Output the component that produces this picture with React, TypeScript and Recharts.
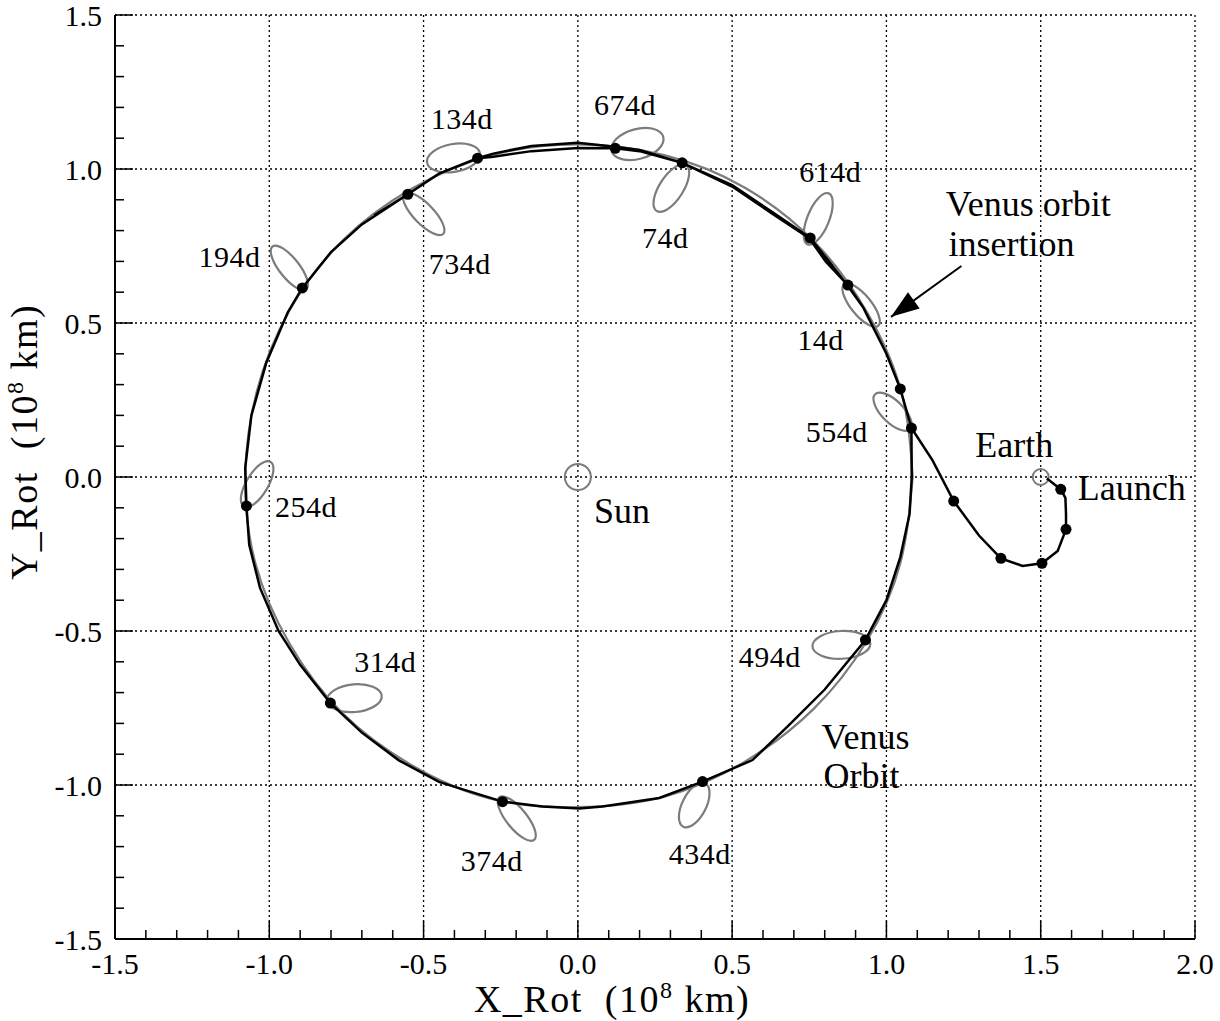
import { CartesianGrid, Scatter, ScatterChart, XAxis, YAxis } from "recharts";

const FONT = "'Liberation Serif', 'Times New Roman', serif";
const GREY = "#7c7c7c";

// axis ticks (every 0.1, labels only on the majors)
const X_MAJOR = [-1.5, -1.0, -0.5, 0, 0.5, 1.0, 1.5, 2.0];
const Y_MAJOR = [-1.5, -1.0, -0.5, 0, 0.5, 1.0, 1.5];
const X_TICKS = [
  -1.5, -1.4, -1.3, -1.2, -1.1, -1.0, -0.9, -0.8, -0.7, -0.6, -0.5, -0.4, -0.3, -0.2, -0.1, 0,
  0.1, 0.2, 0.3, 0.4, 0.5, 0.6, 0.7, 0.8, 0.9, 1.0, 1.1, 1.2, 1.3, 1.4, 1.5, 1.6, 1.7, 1.8, 1.9, 2.0,
];
const Y_TICKS = [
  -1.5, -1.4, -1.3, -1.2, -1.1, -1.0, -0.9, -0.8, -0.7, -0.6, -0.5, -0.4, -0.3, -0.2, -0.1, 0,
  0.1, 0.2, 0.3, 0.4, 0.5, 0.6, 0.7, 0.8, 0.9, 1.0, 1.1, 1.2, 1.3, 1.4, 1.5,
];

// spacecraft path in the rotating frame: launch leg, then two laps round Venus orbit
const trajectory = [
  { x: 1.52, y: -0.005 }, { x: 1.565, y: -0.04 }, { x: 1.58, y: -0.068 }, { x: 1.582, y: -0.12 },
  { x: 1.582, y: -0.17 }, { x: 1.555, y: -0.24 }, { x: 1.504, y: -0.28 }, { x: 1.441, y: -0.289 },
  { x: 1.371, y: -0.264 }, { x: 1.3, y: -0.19 }, { x: 1.218, y: -0.078 }, { x: 1.149, y: 0.055 },
  { x: 1.081, y: 0.159 }, { x: 1.045, y: 0.286 }, { x: 1.0, y: 0.4 }, { x: 0.96, y: 0.48 },
  { x: 0.925, y: 0.55 }, { x: 0.875, y: 0.623 }, { x: 0.803, y: 0.7 }, { x: 0.75, y: 0.775 },
  { x: 0.63, y: 0.855 }, { x: 0.5, y: 0.943 }, { x: 0.338, y: 1.02 }, { x: 0.2, y: 1.062 },
  { x: 0.12, y: 1.072 }, { x: 0.0, y: 1.085 }, { x: -0.15, y: 1.075 }, { x: -0.274, y: 1.05 },
  { x: -0.325, y: 1.035 }, { x: -0.45, y: 0.985 }, { x: -0.551, y: 0.918 }, { x: -0.7, y: 0.82 },
  { x: -0.8, y: 0.73 }, { x: -0.893, y: 0.614 }, { x: -0.94, y: 0.535 }, { x: -1.01, y: 0.37 },
  { x: -1.058, y: 0.2 }, { x: -1.078, y: 0.03 }, { x: -1.074, y: -0.094 }, { x: -1.065, y: -0.22 },
  { x: -1.03, y: -0.36 }, { x: -0.97, y: -0.5 }, { x: -0.9, y: -0.61 }, { x: -0.802, y: -0.734 },
  { x: -0.7, y: -0.83 }, { x: -0.58, y: -0.92 }, { x: -0.45, y: -0.99 }, { x: -0.383, y: -1.011 },
  { x: -0.244, y: -1.054 }, { x: -0.115, y: -1.07 }, { x: 0.005, y: -1.076 }, { x: 0.08, y: -1.07 },
  { x: 0.264, y: -1.042 }, { x: 0.404, y: -0.989 }, { x: 0.566, y: -0.919 }, { x: 0.68, y: -0.81 },
  { x: 0.8, y: -0.69 }, { x: 0.932, y: -0.529 }, { x: 1.0, y: -0.4 }, { x: 1.045, y: -0.26 },
  { x: 1.075, y: -0.12 }, { x: 1.082, y: 0.0 }, { x: 1.081, y: 0.159 }, { x: 1.045, y: 0.286 },
  { x: 1.0, y: 0.4 }, { x: 0.96, y: 0.48 }, { x: 0.925, y: 0.55 }, { x: 0.875, y: 0.62 },
  { x: 0.81, y: 0.705 }, { x: 0.753, y: 0.776 }, { x: 0.63, y: 0.86 }, { x: 0.5, y: 0.948 },
  { x: 0.338, y: 1.02 }, { x: 0.2, y: 1.058 }, { x: 0.1215, y: 1.067 }, { x: 0.0, y: 1.068 },
  { x: -0.15, y: 1.058 }, { x: -0.274, y: 1.04 }, { x: -0.325, y: 1.035 }, { x: -0.45, y: 0.985 },
  { x: -0.551, y: 0.918 }, { x: -0.66, y: 0.85 },
];

const venusOrbit = [
  { x: 1.085, y: 0 }, { x: 1.05, y: 0.27 }, { x: 0.94, y: 0.53 }, { x: 0.77, y: 0.76 },
  { x: 0.54, y: 0.94 }, { x: 0.28, y: 1.045 }, { x: 0, y: 1.08 }, { x: -0.28, y: 1.045 },
  { x: -0.54, y: 0.935 }, { x: -0.765, y: 0.765 }, { x: -0.935, y: 0.54 }, { x: -1.04, y: 0.28 },
  { x: -1.078, y: 0 }, { x: -1.045, y: -0.28 }, { x: -0.935, y: -0.54 }, { x: -0.765, y: -0.765 },
  { x: -0.54, y: -0.935 }, { x: -0.28, y: -1.045 }, { x: 0, y: -1.072 }, { x: 0.28, y: -1.038 },
  { x: 0.54, y: -0.925 }, { x: 0.765, y: -0.752 }, { x: 0.935, y: -0.535 }, { x: 1.045, y: -0.28 },
  { x: 1.085, y: 0 },
];

const dayMarks = [
  { x: 1.565, y: -0.04 }, { x: 1.582, y: -0.17 }, { x: 1.504, y: -0.28 }, { x: 1.371, y: -0.264 },
  { x: 1.218, y: -0.078 }, { x: 1.081, y: 0.159 }, { x: 1.045, y: 0.286 }, { x: 0.875, y: 0.623 },
  { x: 0.338, y: 1.02 }, { x: -0.325, y: 1.035 }, { x: -0.893, y: 0.614 }, { x: -1.074, y: -0.094 },
  { x: -0.802, y: -0.734 }, { x: -0.244, y: -1.054 }, { x: 0.404, y: -0.989 }, { x: 0.932, y: -0.529 },
  { x: 0.753, y: 0.776 }, { x: 0.1215, y: 1.067 }, { x: -0.551, y: 0.918 },
];

// small grey loops at each marker (control points of a closed spline)
const loop14 = [
  { x: 0.979, y: 0.483 }, { x: 0.981, y: 0.521 }, { x: 0.946, y: 0.581 }, { x: 0.895, y: 0.627 },
  { x: 0.857, y: 0.633 }, { x: 0.855, y: 0.595 }, { x: 0.89, y: 0.535 }, { x: 0.941, y: 0.489 },
];
const loop74 = [
  { x: 0.356, y: 1.02 }, { x: 0.315, y: 1.013 }, { x: 0.267, y: 0.961 }, { x: 0.24, y: 0.896 },
  { x: 0.25, y: 0.856 }, { x: 0.291, y: 0.863 }, { x: 0.339, y: 0.915 }, { x: 0.366, y: 0.98 },
];
const loop134 = [
  { x: -0.308, y: 1.053 }, { x: -0.342, y: 1.083 }, { x: -0.412, y: 1.085 }, { x: -0.476, y: 1.059 },
  { x: -0.498, y: 1.019 }, { x: -0.464, y: 0.989 }, { x: -0.394, y: 0.987 }, { x: -0.33, y: 1.013 },
];
const loop194 = [
  { x: -0.875, y: 0.602 }, { x: -0.872, y: 0.64 }, { x: -0.907, y: 0.701 }, { x: -0.958, y: 0.749 },
  { x: -0.995, y: 0.756 }, { x: -0.998, y: 0.718 }, { x: -0.963, y: 0.657 }, { x: -0.912, y: 0.609 },
];
const loop254 = [
  { x: -0.991, y: 0.057 }, { x: -1.029, y: 0.048 }, { x: -1.072, y: -0.003 }, { x: -1.097, y: -0.065 },
  { x: -1.087, y: -0.103 }, { x: -1.049, y: -0.094 }, { x: -1.006, y: -0.043 }, { x: -0.982, y: 0.019 },
];
const loop314 = [
  { x: -0.626, y: -0.71 }, { x: -0.658, y: -0.677 }, { x: -0.728, y: -0.668 }, { x: -0.796, y: -0.689 },
  { x: -0.822, y: -0.727 }, { x: -0.79, y: -0.759 }, { x: -0.72, y: -0.768 }, { x: -0.652, y: -0.747 },
];
const loop374 = [
  { x: -0.136, y: -1.186 }, { x: -0.134, y: -1.147 }, { x: -0.17, y: -1.086 }, { x: -0.222, y: -1.039 },
  { x: -0.26, y: -1.032 }, { x: -0.262, y: -1.071 }, { x: -0.226, y: -1.132 }, { x: -0.174, y: -1.179 },
];
const loop434 = [
  { x: 0.417, y: -0.988 }, { x: 0.378, y: -0.996 }, { x: 0.339, y: -1.046 }, { x: 0.322, y: -1.106 },
  { x: 0.338, y: -1.143 }, { x: 0.376, y: -1.134 }, { x: 0.415, y: -1.085 }, { x: 0.432, y: -1.024 },
];
const loop494 = [
  { x: 0.958, y: -0.54 }, { x: 0.926, y: -0.506 }, { x: 0.851, y: -0.495 }, { x: 0.779, y: -0.514 },
  { x: 0.75, y: -0.55 }, { x: 0.782, y: -0.584 }, { x: 0.857, y: -0.595 }, { x: 0.929, y: -0.577 },
];
const loop554 = [
  { x: 1.083, y: 0.149 }, { x: 1.084, y: 0.187 }, { x: 1.048, y: 0.24 }, { x: 0.995, y: 0.276 },
  { x: 0.957, y: 0.275 }, { x: 0.956, y: 0.237 }, { x: 0.992, y: 0.184 }, { x: 1.045, y: 0.148 },
];
const loop614 = [
  { x: 0.817, y: 0.93 }, { x: 0.78, y: 0.913 }, { x: 0.743, y: 0.853 }, { x: 0.727, y: 0.784 },
  { x: 0.741, y: 0.746 }, { x: 0.778, y: 0.763 }, { x: 0.815, y: 0.823 }, { x: 0.831, y: 0.892 },
];
const loop674 = [
  { x: 0.286, y: 1.106 }, { x: 0.249, y: 1.136 }, { x: 0.179, y: 1.133 }, { x: 0.118, y: 1.1 },
  { x: 0.1, y: 1.056 }, { x: 0.137, y: 1.027 }, { x: 0.207, y: 1.029 }, { x: 0.268, y: 1.062 },
];
const loop734 = [
  { x: -0.43, y: 0.782 }, { x: -0.432, y: 0.821 }, { x: -0.473, y: 0.879 }, { x: -0.53, y: 0.923 },
  { x: -0.569, y: 0.926 }, { x: -0.567, y: 0.887 }, { x: -0.525, y: 0.829 }, { x: -0.468, y: 0.786 },
];
const loops = [
  loop14, loop74, loop134, loop194, loop254, loop314, loop374,
  loop434, loop494, loop554, loop614, loop674, loop734,
];

const sun = [{ x: 0, y: 0 }];
const earth = [{ x: 1.5, y: 0 }];
const insertionArrow = [
  { x: 1.243, y: 0.685 },
  { x: 1.015, y: 0.52 },
];

// day labels are set a little smaller than the named labels
const dayLabels = [
  { x: -0.376, y: 1.165, text: "134d" },
  { x: 0.153, y: 1.21, text: "674d" },
  { x: 0.818, y: 0.993, text: "614d" },
  { x: 0.283, y: 0.778, text: "74d" },
  { x: -0.383, y: 0.694, text: "734d" },
  { x: -1.129, y: 0.715, text: "194d" },
  { x: 0.786, y: 0.445, text: "14d" },
  { x: 0.839, y: 0.148, text: "554d" },
  { x: -0.881, y: -0.096, text: "254d" },
  { x: -0.624, y: -0.6, text: "314d" },
  { x: 0.622, y: -0.583, text: "494d" },
  { x: -0.279, y: -1.245, text: "374d" },
  { x: 0.395, y: -1.222, text: "434d" },
];
const nameLabels = [
  { x: 1.46, y: 0.885, text: "Venus orbit" },
  { x: 1.405, y: 0.758, text: "insertion" },
  { x: 1.414, y: 0.104, text: "Earth" },
  { x: 1.795, y: -0.037, text: "Launch" },
  { x: 0.143, y: -0.11, text: "Sun" },
  { x: 0.932, y: -0.843, text: "Venus" },
  { x: 0.919, y: -0.972, text: "Orbit" },
];

const tickFont = { fontFamily: FONT, fontSize: 30, fill: "#000" };
const dayFont = { fontFamily: FONT, fontSize: 30, fill: "#000", letterSpacing: 0.5 };
const nameFont = { fontFamily: FONT, fontSize: 36, fill: "#000" };
const titleFont = { fontFamily: FONT, fontSize: 38, fill: "#000", letterSpacing: 1.5 };

const isMajor = (v: number, majors: number[]) => majors.some((m) => Math.abs(m - v) < 1e-6);
const fmt = (v: number) => v.toFixed(1);

const noDot = () => <g />;

function BottomTick({ x, y, payload }: any) {
  const major = isMajor(payload.value, X_MAJOR);
  return (
    <g>
      <line x1={x} y1={y} x2={x} y2={y - (major ? 18 : 9)} stroke="#000" strokeWidth={1.5} />
      {major && (
        <text x={x} y={y + 24} textAnchor="middle" dominantBaseline="central" style={tickFont}>
          {fmt(payload.value)}
        </text>
      )}
    </g>
  );
}

function TopTick({ x, y, payload }: any) {
  const major = isMajor(payload.value, X_MAJOR);
  return <line x1={x} y1={y} x2={x} y2={y + (major ? 18 : 9)} stroke="#000" strokeWidth={1.5} />;
}

function LeftTick({ x, y, payload }: any) {
  const major = isMajor(payload.value, Y_MAJOR);
  return (
    <g>
      <line x1={x} y1={y} x2={x + (major ? 18 : 9)} y2={y} stroke="#000" strokeWidth={1.5} />
      {major && (
        <text x={x - 13} y={y} textAnchor="end" dominantBaseline="central" style={tickFont}>
          {fmt(payload.value)}
        </text>
      )}
    </g>
  );
}

function RightTick({ x, y, payload }: any) {
  const major = isMajor(payload.value, Y_MAJOR);
  return <line x1={x} y1={y} x2={x - (major ? 18 : 9)} y2={y} stroke="#000" strokeWidth={1.5} />;
}

function TitleText({ name }: { name: string }) {
  return (
    <>
      {name}
      {"\u00a0\u00a0"}(10
      <tspan dy={-14} fontSize={24}>8</tspan>
      <tspan dy={14}>{"\u00a0"}km)</tspan>
    </>
  );
}

function XTitle({ viewBox }: any) {
  const cx = viewBox.x + viewBox.width / 2 - 43;
  return (
    <text x={cx} y={viewBox.y + 73} textAnchor="middle" style={titleFont}>
      <TitleText name="X_Rot" />
    </text>
  );
}

function YTitle({ viewBox }: any) {
  const x = viewBox.x + 22;
  const y = viewBox.y + viewBox.height / 2 - 35;
  return (
    <text x={x} y={y} transform={`rotate(-90 ${x} ${y})`} textAnchor="middle" style={titleFont}>
      <TitleText name="Y_Rot" />
    </text>
  );
}

const markerDot = ({ cx, cy }: any) => <circle cx={cx} cy={cy} r={5.5} fill="#000" />;
const sunShape = ({ cx, cy }: any) => <circle cx={cx} cy={cy} r={13} fill="none" stroke={GREY} strokeWidth={2} />;
const earthShape = ({ cx, cy }: any) => <circle cx={cx} cy={cy} r={8} fill="none" stroke={GREY} strokeWidth={2} />;
const dayShape = ({ cx, cy, payload }: any) => (
  <text x={cx} y={cy} textAnchor="middle" dominantBaseline="central" style={dayFont}>
    {payload.text}
  </text>
);
const nameShape = ({ cx, cy, payload }: any) => (
  <text x={cx} y={cy} textAnchor="middle" dominantBaseline="central" style={nameFont}>
    {payload.text}
  </text>
);
const arrowShape = ({ cx, cy, payload }: any) =>
  payload.x === insertionArrow[1].x ? (
    <polygon
      points={`${cx},${cy} ${cx + 28.6},${cy - 8.3} ${cx + 16.9},${cy - 24.5}`}
      fill="#000"
    />
  ) : (
    <g />
  );

export default function App() {
  return (
    <div style={{ position: "absolute", left: 0, top: 0 }}>
      <ScatterChart
        width={1220}
        height={1021}
        margin={{ top: 15, right: 25, bottom: 12, left: 15 }}
      >
        <CartesianGrid
          stroke="#000"
          strokeWidth={1.3}
          strokeDasharray="2 3"
          verticalValues={X_MAJOR}
          horizontalValues={Y_MAJOR}
        />
        <XAxis
          type="number"
          dataKey="x"
          domain={[-1.5, 2.0]}
          ticks={X_TICKS}
          interval={0}
          tickSize={0}
          tickMargin={0}
          tickLine={false}
          height={70}
          axisLine={{ stroke: "#000", strokeWidth: 2 }}
          tick={(p: any) => <BottomTick {...p} />}
          label={(p: any) => <XTitle {...p} />}
        />
        <YAxis
          type="number"
          dataKey="y"
          domain={[-1.5, 1.5]}
          ticks={Y_TICKS}
          interval={0}
          tickSize={0}
          tickMargin={0}
          tickLine={false}
          width={100}
          axisLine={{ stroke: "#000", strokeWidth: 2 }}
          tick={(p: any) => <LeftTick {...p} />}
          label={(p: any) => <YTitle {...p} />}
        />
        <XAxis
          xAxisId="top"
          orientation="top"
          type="number"
          dataKey="x"
          domain={[-1.5, 2.0]}
          ticks={X_TICKS}
          interval={0}
          tickSize={0}
          tickMargin={0}
          tickLine={false}
          height={0}
          axisLine={{ stroke: "#000", strokeWidth: 2 }}
          tick={(p: any) => <TopTick {...p} />}
        />
        <YAxis
          yAxisId="right"
          orientation="right"
          type="number"
          dataKey="y"
          domain={[-1.5, 1.5]}
          ticks={Y_TICKS}
          interval={0}
          tickSize={0}
          tickMargin={0}
          tickLine={false}
          width={0}
          axisLine={{ stroke: "#000", strokeWidth: 2 }}
          tick={(p: any) => <RightTick {...p} />}
        />
        <Scatter xAxisId="top" yAxisId="right" data={sun} shape={noDot} isAnimationActive={false} />
        <Scatter
          data={venusOrbit}
          line={{ stroke: GREY, strokeWidth: 2.2 }}
          lineJointType="natural"
          shape={noDot}
          isAnimationActive={false}
        />
        {loops.map((loop, i) => (
          <Scatter
            key={`loop-${i}`}
            data={loop}
            line={{ stroke: GREY, strokeWidth: 2.2 }}
            lineJointType="basisClosed"
            shape={noDot}
            isAnimationActive={false}
          />
        ))}
        <Scatter data={sun} shape={sunShape} isAnimationActive={false} />
        <Scatter data={earth} shape={earthShape} isAnimationActive={false} />
        <Scatter
          data={trajectory}
          line={{ stroke: "#000", strokeWidth: 2.5 }}
          lineJointType="linear"
          shape={noDot}
          isAnimationActive={false}
        />
        <Scatter data={dayMarks} shape={markerDot} isAnimationActive={false} />
        <Scatter
          data={insertionArrow}
          line={{ stroke: "#000", strokeWidth: 2 }}
          lineJointType="linear"
          shape={arrowShape}
          isAnimationActive={false}
        />
        <Scatter data={dayLabels} shape={dayShape} isAnimationActive={false} />
        <Scatter data={nameLabels} shape={nameShape} isAnimationActive={false} />
      </ScatterChart>
    </div>
  );
}
